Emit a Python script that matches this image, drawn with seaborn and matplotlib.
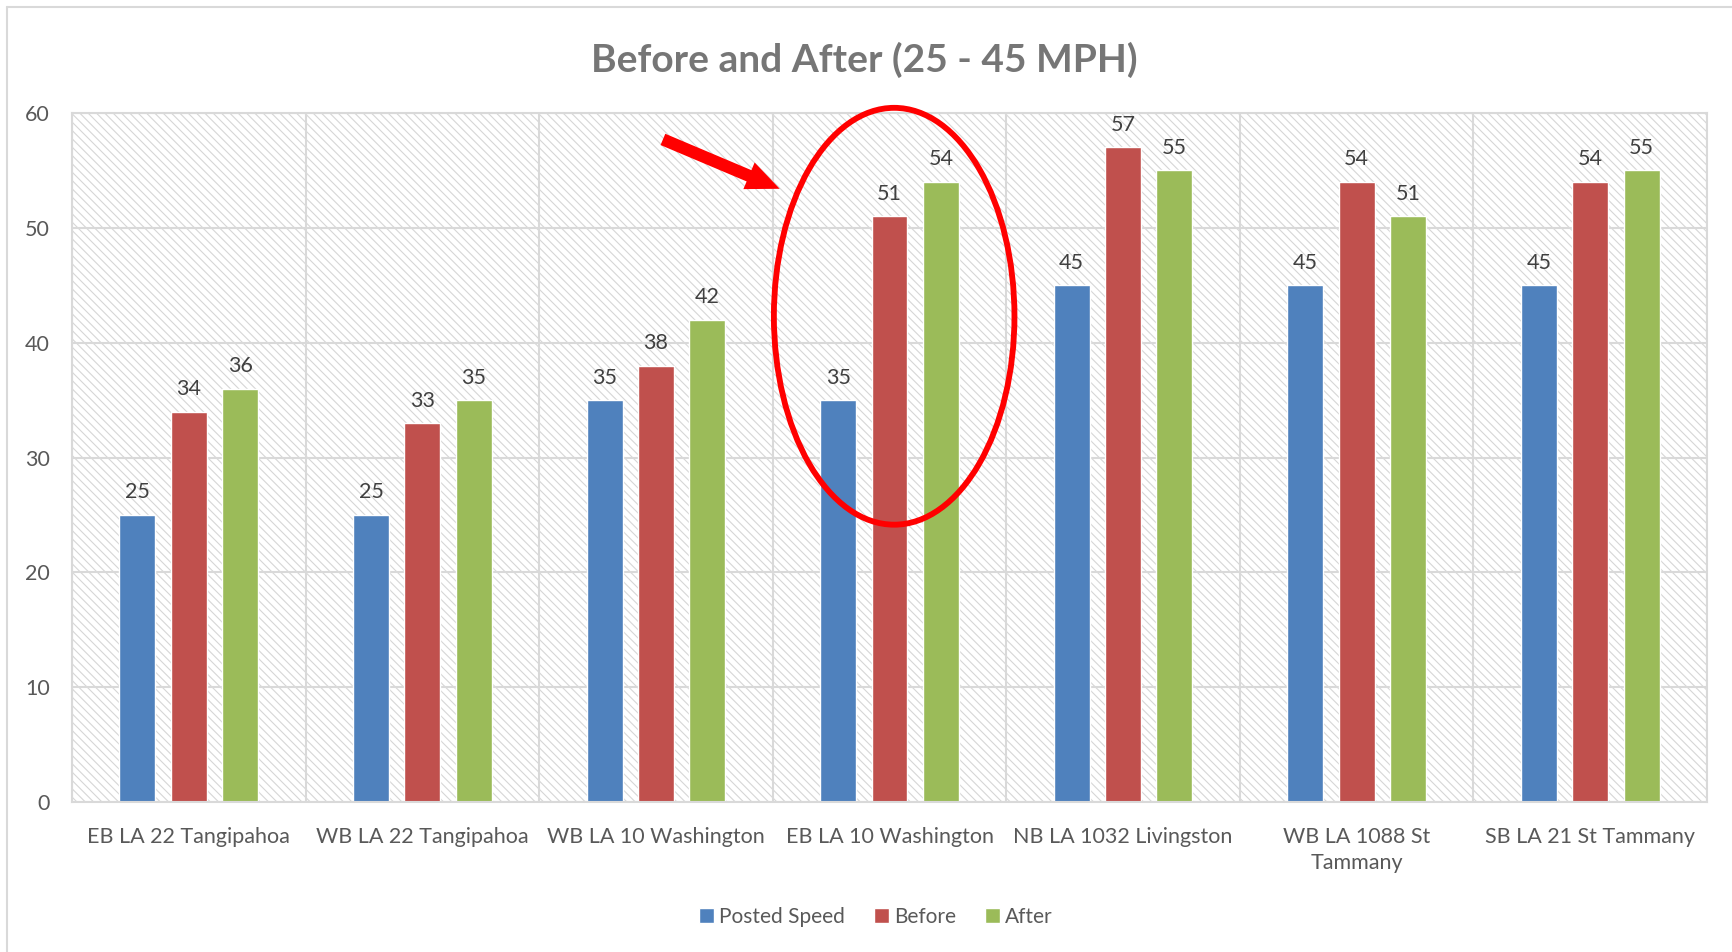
import numpy as np
import pandas as pd
import matplotlib
matplotlib.use('Agg')
import matplotlib.pyplot as plt
from matplotlib.patches import Rectangle, Ellipse
from matplotlib.lines import Line2D
import seaborn as sns

sns.set_style('white')
plt.rcParams['font.family'] = ['Lato', 'DejaVu Sans']
plt.rcParams['hatch.linewidth'] = 0.8

# data
sites = ['EB LA 22 Tangipahoa', 'WB LA 22 Tangipahoa', 'WB LA 10 Washington',
         'EB LA 10 Washington', 'NB LA 1032 Livingston', 'WB LA 1088 St\nTammany',
         'SB LA 21 St Tammany']
series = ['Posted Speed', 'Before', 'After']
posted = [25, 25, 35, 35, 45, 45, 45]
before = [34, 33, 38, 51, 57, 54, 54]
after = [36, 35, 42, 54, 55, 51, 55]
colors = ['#4F81BD', '#C0504D', '#9BBB59']
yticks = [0, 10, 20, 30, 40, 50, 60]

df = pd.DataFrame({'site': sites * 3,
                   'series': np.repeat(series, len(sites)),
                   'speed': posted + before + after})

text_col = '#595959'
grid_col = '#D9D9D9'

fig = plt.figure(figsize=(17.32, 9.52), dpi=100)
ax = fig.add_axes([72 / 1732, 1 - 802 / 952, (1707 - 72) / 1732, (802 - 113) / 952])

# hatched plot background
ax.add_patch(Rectangle((0, 0), 1, 1, transform=ax.transAxes, facecolor='white',
                       edgecolor='#D6D6D6', lw=0, hatch='\\\\\\\\', zorder=0))

sns.barplot(data=df, x='site', y='speed', hue='series', palette=colors,
            saturation=1, width=0.66, gap=0.3, ax=ax, zorder=2)

for c in ax.containers:
    ax.bar_label(c, fmt='%d', padding=9, fontsize=15.5, color='#404040')

ax.set_ylim(0, 60)
ax.set_xlim(-0.5, len(sites) - 0.5)
ax.set_yticks(yticks)
ax.set_xticks(np.arange(-0.5, len(sites)), minor=True)
ax.set_axisbelow(True)
ax.grid(axis='y', which='major', color=grid_col, lw=1.5, zorder=1)
ax.grid(axis='x', which='minor', color=grid_col, lw=1.5, zorder=1)
ax.grid(axis='x', which='major', visible=False)
for s in ax.spines.values():
    s.set_color(grid_col)
    s.set_linewidth(1.5)
ax.tick_params(axis='both', which='both', length=0, labelsize=15.5, colors=text_col)
ax.tick_params(axis='x', pad=18)
ax.tick_params(axis='y', pad=16)
for t in ax.get_xticklabels():
    t.set_linespacing(1.4)
ax.set_xlabel('')
ax.set_ylabel('')

fig.text(864 / 1732, 1 - 60 / 952, 'Before and After (25 - 45 MPH)', ha='center',
         va='center', fontsize=28, fontweight='bold', color='#767676')

ax.get_legend().remove()
handles = [Rectangle((0, 0), 1, 1, facecolor=c) for c in colors]
fig.legend(handles, series, loc='center', bbox_to_anchor=(876 / 1732, 1 - 917 / 952),
           ncol=3, frameon=False, fontsize=15, labelcolor=text_col,
           handlelength=0.7, handleheight=0.7, handletextpad=0.25, columnspacing=1.4)

# red highlight annotation
ax.add_patch(Ellipse((3.02, 42.3), 1.03, 36.3, fill=False, edgecolor='#FF0000',
                     lw=4.2, zorder=5, clip_on=False))
ax.annotate('', xy=(2.53, 53.4), xytext=(2.03, 57.7),
            arrowprops=dict(arrowstyle='simple,head_length=1.5,head_width=1.3,tail_width=0.55',
                            color='#FF0000', lw=0, shrinkA=0, shrinkB=0,
                            mutation_scale=16), zorder=5)

# chart frame
fig.add_artist(Line2D([7 / 1732, 7 / 1732], [0, 1 - 7 / 952], transform=fig.transFigure,
                      color=grid_col, lw=1.5))
fig.add_artist(Line2D([7 / 1732, 1], [1 - 7 / 952, 1 - 7 / 952], transform=fig.transFigure,
                      color=grid_col, lw=1.5))

fig.savefig('out.png', dpi=100)
